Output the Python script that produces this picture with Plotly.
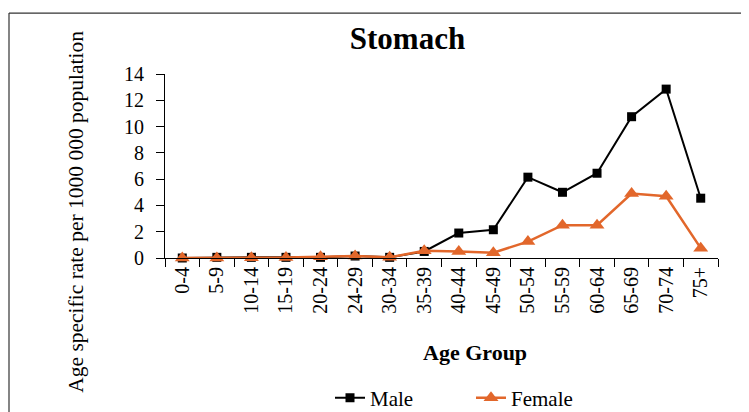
import plotly.graph_objects as go

age_groups = ["0-4", "5-9", "10-14", "15-19", "20-24", "24-29", "30-34", "35-39",
              "40-44", "45-49", "50-54", "55-59", "60-64", "65-69", "70-74", "75+"]
male = [0.0, 0.05, 0.05, 0.05, 0.05, 0.15, 0.05, 0.5, 1.9, 2.15, 6.15, 5.0, 6.45, 10.75, 12.85, 4.55]
female = [0.0, 0.0, 0.02, 0.03, 0.1, 0.15, 0.05, 0.55, 0.5, 0.4, 1.25, 2.5, 2.5, 4.9, 4.7, 0.75]
y_ticks = [0, 2, 4, 6, 8, 10, 12, 14]

# page offset: the browser's default body margin
OFF = 8
W, H = 749, 412
# plot area in page pixels
PX0, PX1, PY0, PY1 = 165, 718, 74, 258.3
L, T = PX0 - OFF, PY0 - OFF
R = W - (PX1 - OFF)
B = H - (PY1 - OFF)
pw, ph = W - L - R, H - T - B


def px_x(px):
    return (px - OFF - L) / pw


def px_y(py):
    return (H - B - (py - OFF)) / ph


FONT = "Liberation Serif, Times New Roman, serif"
ORANGE = "#E2672B"

fig = go.Figure()
fig.add_trace(go.Scatter(
    x=age_groups, y=male, name="Male", mode="lines+markers",
    line=dict(color="black", width=2),
    marker=dict(symbol="square", size=9, color="black"),
    cliponaxis=False,
))
fig.add_trace(go.Scatter(
    x=age_groups, y=female, name="Female", mode="lines+markers",
    line=dict(color=ORANGE, width=2.5),
    marker=dict(symbol="triangle-up", size=13, color=ORANGE),
    cliponaxis=False,
))

fig.update_layout(
    width=W, height=H,
    margin=dict(l=L, r=R, t=T, b=B, pad=0, autoexpand=False),
    paper_bgcolor="white", plot_bgcolor="white",
    font=dict(family=FONT, color="black", size=20),
    title=dict(text="<b>Stomach</b>", x=(407.5 - OFF) / W, xref="container", xanchor="center",
               y=1 - (38 - OFF) / H, yref="container", yanchor="middle",
               font=dict(family=FONT, size=31, color="black")),
    showlegend=True,
    legend=dict(orientation="h", x=px_x(330), xanchor="left", y=px_y(378), yanchor="top",
                font=dict(family=FONT, size=21, color="black"),
                entrywidth=96, entrywidthmode="pixels",
                bgcolor="rgba(0,0,0,0)"),
    xaxis=dict(
        type="category", range=[-0.5, len(age_groups) - 0.5],
        showline=True, linecolor="black", linewidth=1,
        ticks="outside", tickson="boundaries", ticklen=8, tickcolor="black", tickwidth=1,
        tickangle=-90, tickfont=dict(family=FONT, size=20, color="black"),
        showgrid=False, zeroline=False, automargin=False,
    ),
    yaxis=dict(
        range=[0, 14], tickvals=y_ticks,
        showline=True, linecolor="black", linewidth=1,
        ticks="outside", ticklen=8, tickcolor="black", tickwidth=1,
        ticklabelstandoff=8,
        tickfont=dict(family=FONT, size=20, color="black"),
        showgrid=False, zeroline=False, automargin=False,
    ),
    annotations=[
        dict(text="<b>Age Group</b>", x=px_x(475), y=px_y(353), xref="paper", yref="paper",
             xanchor="center", yanchor="middle", showarrow=False,
             font=dict(family=FONT, size=22, color="black")),
        dict(text="Age specific rate per 1000 000 population", x=px_x(76), y=px_y(212),
             xref="paper", yref="paper", xanchor="center", yanchor="middle",
             textangle=-90, showarrow=False,
             font=dict(family=FONT, size=21.5, color="black")),
    ],
    shapes=[
        dict(type="line", xref="paper", yref="paper",
             x0=px_x(9), x1=px_x(760), y0=px_y(13), y1=px_y(13),
             line=dict(color="#333333", width=1.2), layer="below"),
        dict(type="line", xref="paper", yref="paper",
             x0=px_x(9), x1=px_x(9), y0=px_y(13), y1=px_y(430),
             line=dict(color="#333333", width=1.2), layer="below"),
    ],
)

fig.write_html("out.html")
